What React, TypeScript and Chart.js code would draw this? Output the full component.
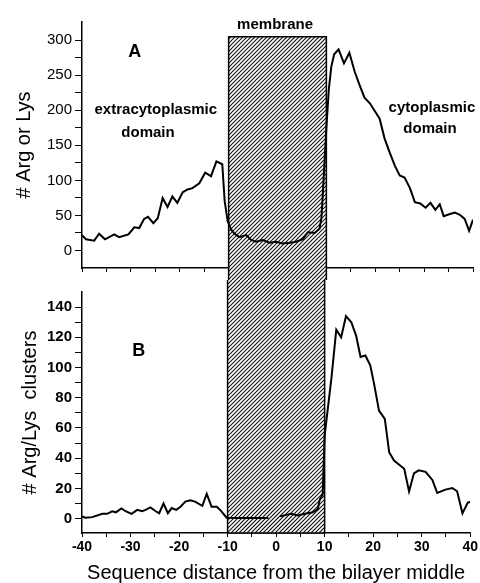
import React, { useEffect, useRef } from 'react';
import { Chart, registerables } from 'chart.js';

Chart.register(...registerables);

// ---- data ----
const xTicks = [-40, -30, -20, -10, 0, 10, 20, 30, 40];
const xMinorTicks = [-35, -25, -15, -5, 5, 15, 25, 35];
const topTicks = [0, 50, 100, 150, 200, 250, 300];
const topMinorTicks = [25, 75, 125, 175, 225, 275];
const bottomTicks = [0, 20, 40, 60, 80, 100, 120, 140];
const bottomMinorTicks = [10, 30, 50, 70, 90, 110, 130];

// Panel A: # Arg or Lys vs sequence distance
const argLysX = [
  -40, -39.2, -37.5, -36.5, -35.3, -33.4, -32.4, -30.5, -29.3, -28.3, -27.3, -26.5, -25.4, -24.5,
  -23.5, -22.5, -21.5, -20.5, -19.4, -18.4, -17.4, -16, -14.8, -13.6, -12.5, -11.3, -10.8, -10.2,
  -9.5, -8.8, -7.8, -6.4, -5.4, -4.4, -3, -1.6, -0.3, 1, 2.5, 3.8, 5.2, 6.2, 7.6, 8.6, 9, 9.5, 10,
  10.5, 11, 11.6, 12.5, 13.6, 14.7, 15.8, 16.8, 17.8, 18.9, 19.9, 20.9, 21.9, 23, 24, 25, 26, 27.1,
  28.1, 29.2, 30.3, 31.3, 32.3, 33.2, 34, 35.3, 36.3, 37.3, 38.3, 39.2, 40,
];
const argLysY = [
  22, 16, 14, 24, 16, 23, 19, 23, 33, 32, 45, 48, 39, 46,
  75, 62, 77, 68, 83, 87, 89, 96, 111, 106, 127, 123, 70, 42,
  30, 24, 19, 22, 15, 12.5, 15, 11, 12.5, 10, 11, 12.5, 16, 26, 25, 31, 47, 110, 175,
  230, 262, 280, 287, 267, 282, 255, 236, 218, 210, 199, 188, 160, 139, 121, 107, 104, 89,
  69, 67, 61, 68, 58, 66, 49, 52, 54, 51, 45, 28, 44,
];

// Panel B: # Arg/Lys clusters vs sequence distance
const clusterX = [
  -40, -39.3, -37.9, -35.8, -34.8, -33.8, -33, -31.9, -31, -29.8, -28.6, -27.6, -26.9, -25.9, -24.8,
  -24.1, -23.2, -22.3, -21.5, -20.6, -19.7, -18.7, -17.7, -16.7, -15.2, -14.3, -13.3, -12.2, -11.4,
  -10.2, -8, -5, -1.6, -0.4, 0.8, 3.1, 4.5, 5.9, 7.6, 8.6, 9, 9.6, 10, 11.4, 12.4, 13.4, 14.4, 15.5,
  16.5, 17.4, 18.4, 19.4, 20.2, 21.2, 22.4, 23.3, 24.3, 26.4, 27.4, 28.4, 29.4, 30.8, 32.2, 33.2,
  34.9, 36.3, 37.3, 38.4, 39.5, 40,
];
const clusterY = [
  1.5, 0.6, 1, 3.2, 3.2, 4.9, 4.2, 6.8, 4.9, 3.2, 5.8, 4.9, 5.8, 7.4, 4.9,
  3.6, 10, 3.6, 7, 5.8, 7.9, 11.3, 12.2, 11.3, 8.5, 16.4, 7.9, 7.9, 5.3,
  0.6, 0.5, 0.5, 0.5, null, 1.5, 3.2, 2.1, 3.2, 4.2, 6.4, 12.8, 16, 55, 93, 125, 120, 134, 130,
  121, 107, 108, 101.5, 89, 71.5, 66, 44, 38.5, 33, 18, 30, 32, 31, 25.6, 17,
  19.2, 20.3, 18.1, 3.5, 10.6, 11,
];

const membraneFrom = -10;
const membraneTo = 10;
const membraneTopValue = 305;

const FONT = "'Liberation Sans', Arial, Helvetica, sans-serif";

function makeHatchPlugin(pageOffsetY: number, isTop: boolean) {
  return {
    id: 'membraneHatch',
    beforeDatasetsDraw(chart: any) {
      const { ctx, scales } = chart;
      const x0 = scales.x.getPixelForValue(membraneFrom);
      const x1 = scales.x.getPixelForValue(membraneTo);
      const y0 = isTop ? scales.y.getPixelForValue(membraneTopValue) : 0;
      const y1 = isTop ? chart.height : chart.chartArea.bottom;
      ctx.save();
      ctx.fillStyle = '#fff';
      ctx.fillRect(x0, y0, x1 - x0, y1 - y0);
      ctx.beginPath();
      ctx.rect(x0, y0, x1 - x0, y1 - y0);
      ctx.clip();
      ctx.strokeStyle = '#111';
      ctx.lineWidth = 1.1;
      const sp = 4;
      const off = pageOffsetY;
      const cMin = x0 + y0 + off;
      const cMax = x1 + y1 + off;
      for (let c = Math.floor(cMin / sp) * sp; c <= cMax + sp; c += sp) {
        ctx.beginPath();
        ctx.moveTo(c - y0 - off, y0);
        ctx.lineTo(c - y1 - off, y1);
        ctx.stroke();
      }
      ctx.restore();
      ctx.save();
      ctx.strokeStyle = '#000';
      ctx.lineWidth = 1.5;
      ctx.beginPath();
      if (isTop) {
        ctx.moveTo(x0, y1);
        ctx.lineTo(x0, y0);
        ctx.lineTo(x1, y0);
        ctx.lineTo(x1, y1);
      } else {
        ctx.moveTo(x0, y0);
        ctx.lineTo(x0, y1);
        ctx.lineTo(x1, y1);
        ctx.lineTo(x1, y0);
      }
      ctx.stroke();
      ctx.restore();
    },
  };
}

type Note = { text: string; x: number; y: number; font: string };

function makeNotesPlugin(notes: Note[]) {
  return {
    id: 'notes',
    afterDraw(chart: any) {
      const { ctx, scales } = chart;
      ctx.save();
      ctx.fillStyle = '#000';
      ctx.textAlign = 'center';
      ctx.textBaseline = 'middle';
      notes.forEach((n) => {
        ctx.font = n.font;
        ctx.fillText(n.text, scales.x.getPixelForValue(n.x), scales.y.getPixelForValue(n.y));
      });
      ctx.restore();
    },
  };
}

function xScale(showLabels: boolean, withTitle: boolean) {
  return {
    type: 'linear',
    min: -40,
    max: 40,
    afterBuildTicks: (s: any) => {
      s.ticks = [...xTicks, ...xMinorTicks].sort((a, b) => a - b).map((v) => ({ value: v }));
    },
    ticks: {
      display: showLabels,
      autoSkip: false,
      maxRotation: 0,
      padding: 2,
      color: '#000',
      font: { family: FONT, size: 14, weight: 'bold' },
      callback: (v: any) => (xTicks.includes(Number(v)) ? String(v) : ''),
    },
    grid: { drawOnChartArea: false, tickLength: 4, color: '#000', lineWidth: 1 },
    border: { color: '#000', width: 1.5 },
    title: withTitle
      ? {
          display: true,
          text: 'Sequence distance from the bilayer middle',
          color: '#000',
          font: { family: FONT, size: 20, lineHeight: 1 },
          padding: { top: 0, bottom: 0 },
        }
      : { display: false },
    afterFit: (s: any) => {
      s.height = withTitle ? 50 : 5;
    },
  };
}

function yScale(min: number, max: number, major: number[], minor: number[], title: string, titlePad: number, bold: boolean) {
  return {
    min,
    max,
    afterBuildTicks: (s: any) => {
      s.ticks = [...major, ...minor].sort((a, b) => a - b).map((v) => ({ value: v }));
    },
    ticks: {
      autoSkip: false,
      padding: 3,
      color: '#000',
      font: { family: FONT, size: 15, weight: bold ? 'bold' : 'normal' },
      callback: (v: any) => (major.includes(Number(v)) ? String(v) : ''),
    },
    grid: { drawOnChartArea: false, tickLength: 7, color: '#000', lineWidth: 1 },
    border: { color: '#000', width: 1.5 },
    title: {
      display: true,
      text: title,
      color: '#000',
      font: { family: FONT, size: 20 },
      padding: { top: titlePad, bottom: 0 },
    },
    afterFit: (s: any) => {
      s.width = 82;
    },
  };
}

function lineDataset(xs: number[], ys: (number | null)[]) {
  return {
    data: xs.map((x, i) => ({ x, y: ys[i] })),
    borderColor: '#000',
    borderWidth: 2,
    pointRadius: 0,
    tension: 0,
    fill: false,
    spanGaps: false,
  };
}

export default function App() {
  const topRef = useRef<HTMLCanvasElement | null>(null);
  const bottomRef = useRef<HTMLCanvasElement | null>(null);

  useEffect(() => {
    const bold15 = `bold 15px ${FONT}`;
    const topChart = new Chart(topRef.current as HTMLCanvasElement, {
      type: 'line',
      data: { datasets: [lineDataset(argLysX, argLysY) as any] },
      options: {
        responsive: false,
        animation: false,
        layout: { padding: { top: 22, right: 7, left: 0, bottom: 0 } },
        plugins: { legend: { display: false }, tooltip: { enabled: false } },
        scales: {
          x: xScale(false, false) as any,
          y: yScale(-25, 326, topTicks, topMinorTicks, '# Arg or Lys', 12, false) as any,
        },
      },
      plugins: [
        makeHatchPlugin(0, true),
        makeNotesPlugin([
          { text: 'A', x: -29.2, y: 283, font: `bold 18px ${FONT}` },
          { text: 'extracytoplasmic', x: -24.9, y: 200, font: bold15 },
          { text: 'domain', x: -26.5, y: 168, font: bold15 },
          { text: 'membrane', x: -0.5, y: 322, font: bold15 },
          { text: 'cytoplasmic', x: 31.6, y: 204, font: bold15 },
          { text: 'domain', x: 31.2, y: 173, font: bold15 },
        ]),
      ],
    } as any);

    const bottomChart = new Chart(bottomRef.current as HTMLCanvasElement, {
      type: 'line',
      data: { datasets: [lineDataset(clusterX, clusterY) as any] },
      options: {
        responsive: false,
        animation: false,
        layout: { padding: { top: 4, right: 7, left: 0, bottom: 0 } },
        plugins: { legend: { display: false }, tooltip: { enabled: false } },
        scales: {
          x: xScale(true, true) as any,
          y: yScale(-9.5, 150, bottomTicks, bottomMinorTicks, '# Arg/Lys  clusters', 18, true) as any,
        },
      },
      plugins: [
        makeHatchPlugin(280, false),
        makeNotesPlugin([{ text: 'B', x: -28.3, y: 111, font: `bold 18px ${FONT}` }]),
      ],
    } as any);

    return () => {
      topChart.destroy();
      bottomChart.destroy();
    };
  }, []);

  return (
    <div style={{ position: 'fixed', left: 0, top: 0, width: 480, height: 583, background: '#fff', overflow: 'hidden' }}>
      <canvas ref={topRef} width={480} height={280} style={{ position: 'absolute', left: 0, top: 0 }} />
      <canvas ref={bottomRef} width={480} height={303} style={{ position: 'absolute', left: 0, top: 280 }} />
    </div>
  );
}
